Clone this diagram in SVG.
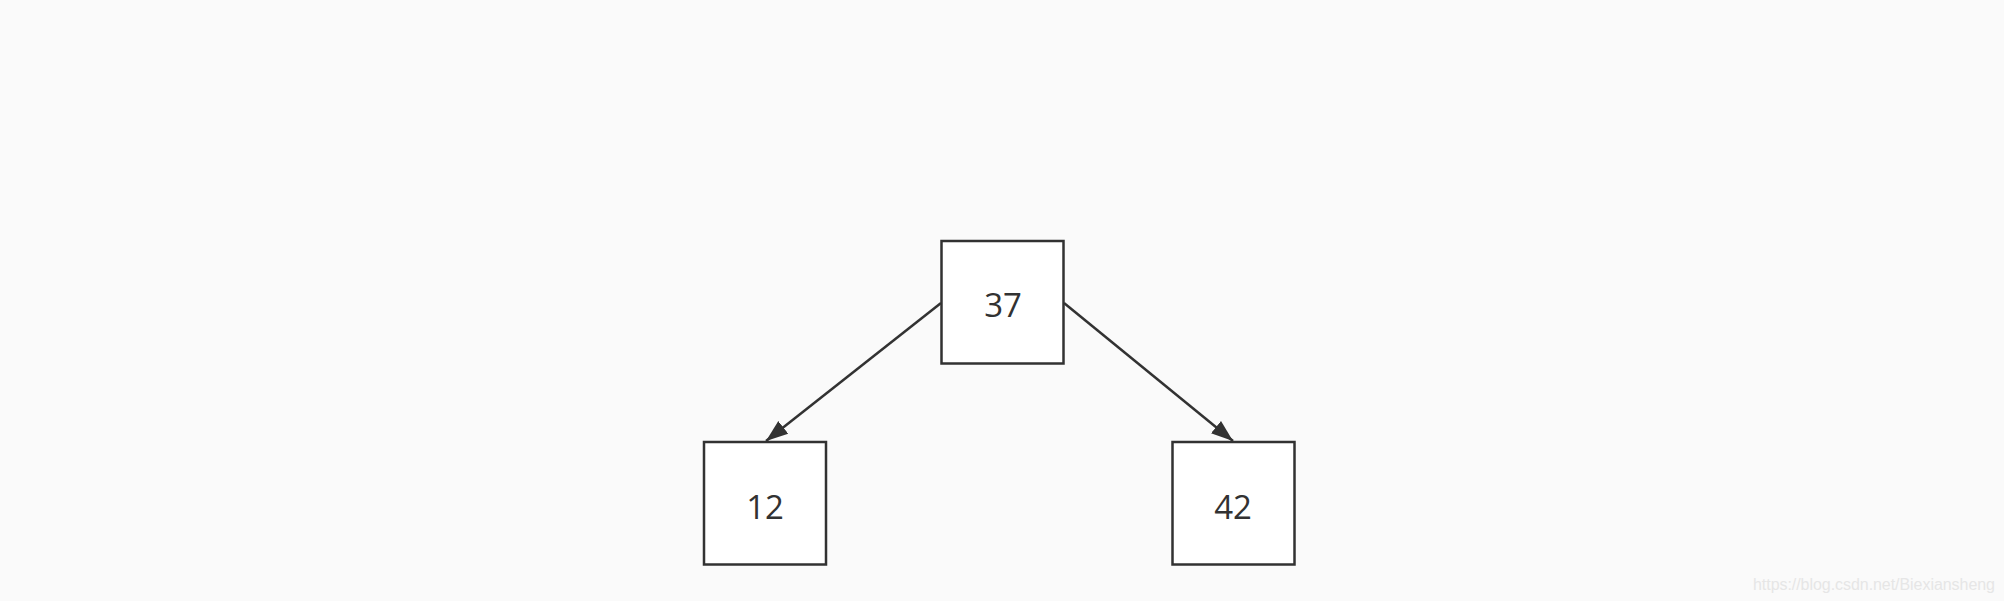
<svg xmlns="http://www.w3.org/2000/svg" width="2004" height="601" viewBox="0 0 2004 601">
<style>
.node rect{fill:#ffffff;stroke:#323232;stroke-width:2.5}
.node text{font-family:"Open Sans","Noto Sans","Liberation Sans",sans-serif;font-size:33px;fill:#323232;text-anchor:middle;dominant-baseline:central}
.edge{stroke:#323232;stroke-width:2.5;fill:none;marker-end:url(#arrow)}
.wm{font-family:"Liberation Sans",Arial,sans-serif;font-size:16px;fill:#e6e6e6}
</style>
<defs>
<marker id="arrow" markerUnits="userSpaceOnUse" markerWidth="24" markerHeight="18" refX="22" refY="8" orient="auto" viewBox="0 0 24 16">
<path d="M0,0 L22,8 L0,16 z" fill="#323232"/>
</marker>
</defs>
<rect x="0" y="0" width="2004" height="601" fill="#fafafa"/>
<g id="connectors">
<line class="edge" x1="941" y1="303" x2="766" y2="441"/>
<line class="edge" x1="1064" y1="303" x2="1233" y2="441"/>
</g>
<g id="node-37" class="node">
<rect x="941.5" y="241" width="122" height="122.5"/>
<text x="1003" y="304">37</text>
</g>
<g id="node-12" class="node">
<rect x="704" y="442" width="122" height="122.5"/>
<text x="765" y="506">12</text>
</g>
<g id="node-42" class="node">
<rect x="1172.5" y="442" width="122" height="122.5"/>
<text x="1233" y="506">42</text>
</g>
<text class="wm" x="1753" y="590" textLength="242">https://blog.csdn.net/Biexiansheng</text>
</svg>
